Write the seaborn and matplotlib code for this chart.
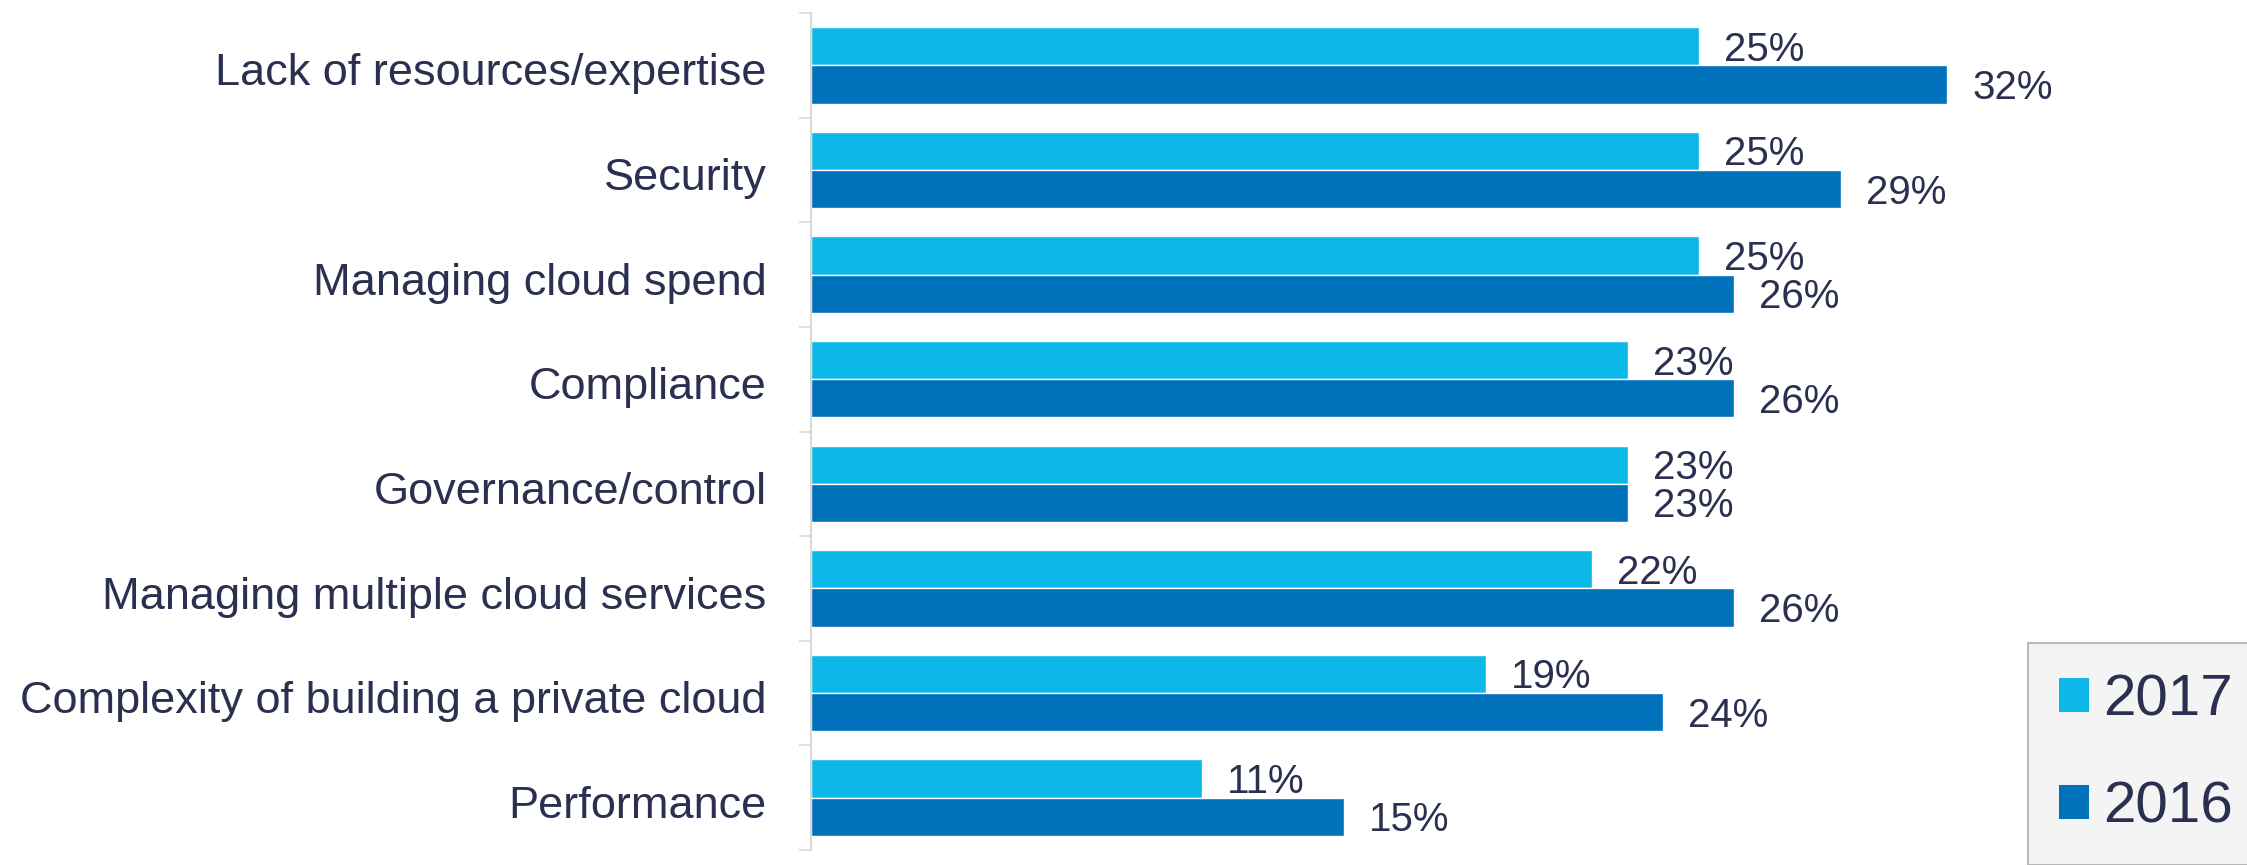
import matplotlib
matplotlib.use("Agg")
import matplotlib.pyplot as plt
import matplotlib.transforms as mtransforms
import pandas as pd
import seaborn as sns
from matplotlib.patches import Patch
from matplotlib.ticker import FixedLocator

categories = [
    "Lack of resources/expertise",
    "Security",
    "Managing cloud spend",
    "Compliance",
    "Governance/control",
    "Managing multiple cloud services",
    "Complexity of building a private cloud",
    "Performance",
]
years = ["2017", "2016"]
values_2017 = [25, 25, 25, 23, 23, 22, 19, 11]
values_2016 = [32, 29, 26, 26, 23, 26, 24, 15]

colors = {"2017": "#0BB8E8", "2016": "#0072BC"}
text_color = "#2B3050"

sns.set_theme(style="white")
plt.rcParams["font.family"] = ["Liberation Sans", "DejaVu Sans"]

df = pd.DataFrame({
    "category": categories * 2,
    "year": ["2017"] * len(categories) + ["2016"] * len(categories),
    "value": values_2017 + values_2016,
})

W, H = 2247, 865
fig = plt.figure(figsize=(W / 100, H / 100), dpi=100)
ax = fig.add_axes([811 / W, 1 - 850 / H, (W - 811) / W, (850 - 13) / H])

sns.barplot(
    data=df,
    y="category",
    x="value",
    hue="year",
    hue_order=years,
    order=categories,
    palette=colors,
    width=0.73,
    gap=0,
    saturation=1,
    orient="h",
    legend=False,
    ax=ax,
)

# value labels sit a touch below the bar centre in the original
for container in ax.containers:
    labels = ax.bar_label(
        container,
        fmt="%d%%",
        padding=18,
        fontsize=29,
        color=text_color,
    )
    for lab in labels:
        lab.xyann = (18, -2.5)

ax.set_xlim(0, 40.45)
ax.set_ylim(len(categories) - 0.5, -0.5)
ax.set_xlabel("")
ax.set_ylabel("")
ax.set_xticks([])

ax.yaxis.set_minor_locator(FixedLocator([i - 0.5 for i in range(len(categories) + 1)]))
ax.tick_params(axis="y", which="major", length=0, pad=32, labelsize=32.5, labelcolor=text_color)
ax.tick_params(axis="y", which="minor", left=True, length=9, width=1.2, color="#D9D9D9")
shift = mtransforms.ScaledTranslation(0, -3 / 72, fig.dpi_scale_trans)
for lab in ax.get_yticklabels():
    lab.set_transform(lab.get_transform() + shift)

for side in ["top", "right", "bottom"]:
    ax.spines[side].set_visible(False)
ax.spines["left"].set_color("#D9D9D9")
ax.spines["left"].set_linewidth(1.5)

handles = [Patch(facecolor=colors[y], edgecolor="none", label=y) for y in years]
leg = fig.legend(
    handles=handles,
    loc="upper left",
    bbox_to_anchor=(2028 / W, 1 - 643 / H),
    fontsize=42,
    frameon=True,
    fancybox=False,
    handlelength=0.52,
    handleheight=0.52,
    handletextpad=0.24,
    borderpad=0.53,
    labelspacing=0.9,
    borderaxespad=0,
)
leg.get_frame().set_facecolor("#F2F2F2")
leg.get_frame().set_edgecolor("#AAAAAA")
leg.get_frame().set_linewidth(1.5)
for t in leg.get_texts():
    t.set_color(text_color)

fig.savefig("out.png", dpi=100, facecolor="white")
